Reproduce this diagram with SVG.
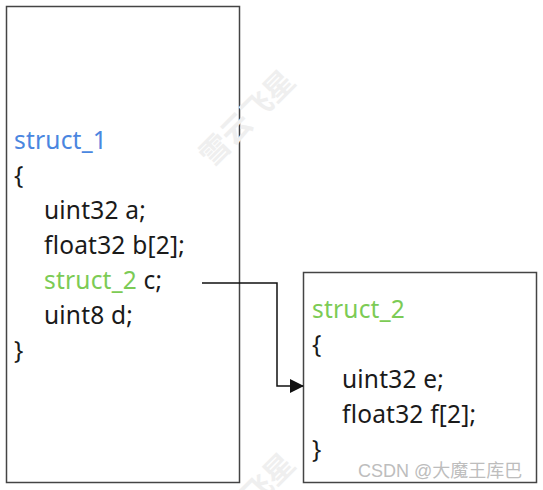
<svg xmlns="http://www.w3.org/2000/svg" width="543" height="490" viewBox="0 0 543 490">
<defs>
<style>
.box{fill:#fff;stroke:#444;stroke-width:1.5}
.t{font-family:"Noto Sans","Open Sans",sans-serif;font-size:24.5px;letter-spacing:0.2px;fill:#1a1a1a}
.blue{fill:#4a86e0}
.green{fill:#7ccb55}
.wm{font-family:"Liberation Sans","Noto Sans CJK SC",sans-serif;font-size:18px;fill:#bdbdbd}
.wm2{font-family:"Noto Sans CJK SC",sans-serif;font-size:30px;fill:#efefef;font-weight:bold}
.conn{fill:none;stroke:#111;stroke-width:1.5}
</style>
<marker id="arr" markerWidth="14" markerHeight="14" refX="13" refY="7" orient="auto" markerUnits="userSpaceOnUse" viewBox="0 0 14 14">
<path d="M0,0 L14,7 L0,14 Z" fill="#111"/>
</marker>
</defs>
<rect width="543" height="490" fill="#fff"/>
<g id="struct_1">
<rect class="box" x="6.5" y="6.5" width="233" height="476"/>
<text class="t blue" x="14" y="149">struct_1</text>
<text class="t" x="14" y="184">{</text>
<text class="t" x="44" y="219">uint32 a;</text>
<text class="t" x="44" y="254">float32 b[2];</text>
<text class="t" x="44" y="289"><tspan class="green">struct_2</tspan> c;</text>
<text class="t" x="44" y="324">uint8 d;</text>
<text class="t" x="14" y="359">}</text>
</g>
<g id="struct_2">
<rect class="box" x="303.5" y="272.5" width="233" height="210"/>
<text class="t green" x="312" y="318">struct_2</text>
<text class="t" x="312" y="353">{</text>
<text class="t" x="342" y="388">uint32 e;</text>
<text class="t" x="342" y="423">float32 f[2];</text>
<text class="t" x="312" y="458">}</text>
</g>
<g id="connectors">
<path class="conn" d="M202,283 H277 V386 H303" marker-end="url(#arr)"/>
</g>
<text class="wm2" transform="translate(212,168) rotate(-45)">雪云飞星</text>
<text class="wm2" transform="translate(212,551) rotate(-45)">雪云飞星</text>
<text class="wm" x="358" y="477">CSDN @大魔王库巴</text>
</svg>
